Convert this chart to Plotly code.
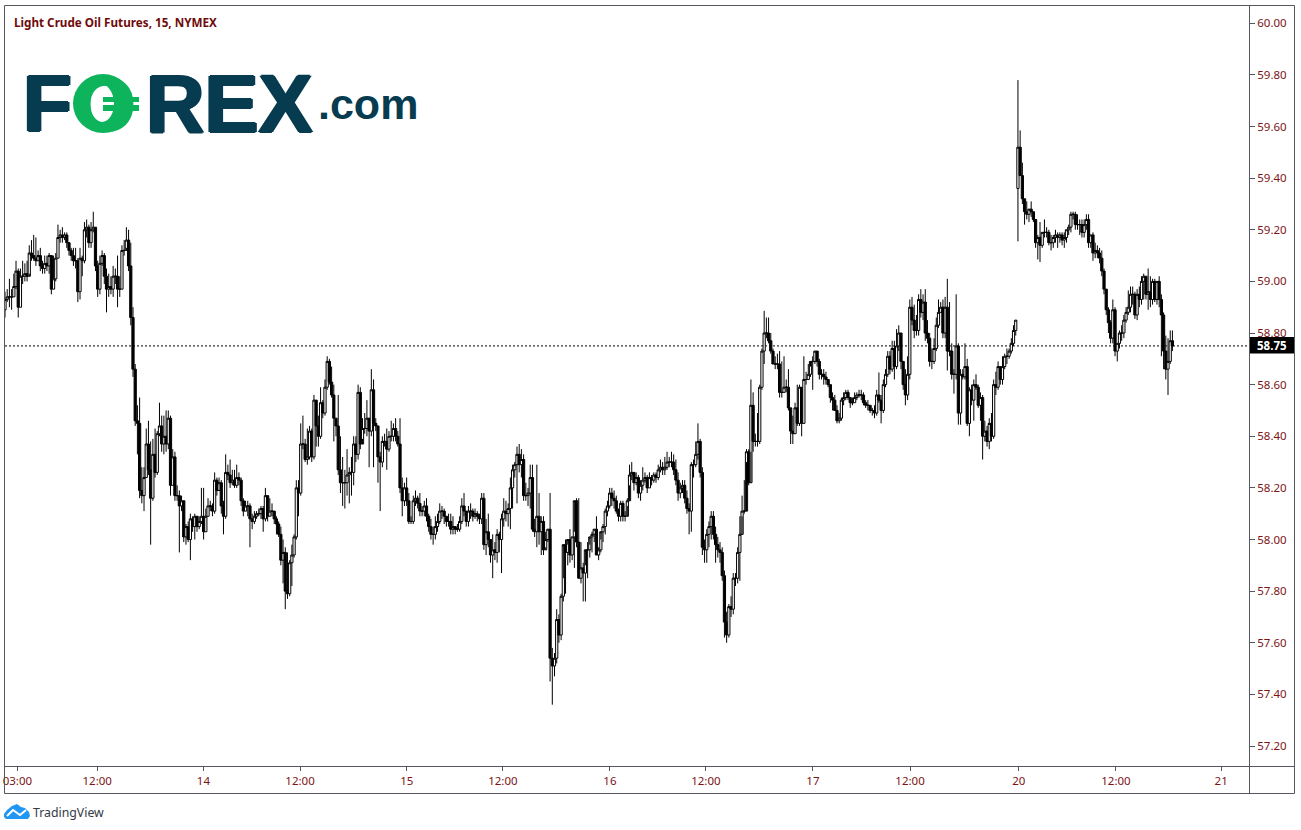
import plotly.graph_objects as go

W, H = 1301, 830
TITLE = "Light Crude Oil Futures, 15, NYMEX"
TICK_POS = [5.6, 41.8, 89.9, 133.7, 182.1, 225.6, 274.1, 317.6, 366.1, 410.1, 459.4, 503.4, 551.1]
TICK_TEXT = ["03:00", "12:00", "14", "12:00", "15", "12:00", "16", "12:00", "17", "12:00", "20", "12:00", "21"]
LAST_PRICE = 58.75

# Block A: first morning
opens_a = [58.89,58.93,58.94,58.94,58.94,58.98,59.04,58.90,59.02,59.02,
59.03,59.02,59.11,59.10,59.09,59.08,59.10,59.06,59.05,59.07,
59.06,59.10,58.97,59.01,59.09,59.17,59.18,59.17,59.18,59.15,
59.12,59.10,59.08,59.08,58.96,59.09,59.08,59.20,59.21,59.15,
59.20,59.21,59.06,58.97,59.07,59.10,59.02,58.97,58.98,58.97,
59.02,59.02,58.97,58.97,59.12,59.12,59.16,59.06]
highs_a = [58.96,58.97,59.01,58.97,59.03,59.08,59.05,59.05,59.08,59.07,
59.08,59.14,59.16,59.18,59.17,59.12,59.13,59.08,59.10,59.10,
59.11,59.10,59.10,59.11,59.22,59.20,59.21,59.19,59.19,59.15,
59.13,59.13,59.13,59.09,59.13,59.10,59.23,59.24,59.22,59.23,
59.27,59.21,59.08,59.10,59.12,59.11,59.05,59.03,59.02,59.06,
59.05,59.10,59.02,59.14,59.16,59.21,59.20,59.15]
lows_a = [58.86,58.92,58.90,58.89,58.94,58.97,58.86,58.90,58.99,59.00,
59.00,59.03,59.08,59.08,59.06,59.08,59.04,59.03,59.03,59.04,
59.03,58.95,58.97,59.00,59.09,59.15,59.15,59.16,59.13,59.10,
59.08,59.06,59.05,58.92,58.93,59.02,59.07,59.17,59.13,59.13,
59.19,59.04,58.94,58.95,59.06,58.99,58.88,58.94,58.95,58.94,
58.99,58.90,58.94,58.97,59.10,59.13,59.04,58.83]
closes_a = [58.93,58.94,58.94,58.94,58.98,59.04,58.90,59.02,59.02,59.03,
59.02,59.11,59.10,59.09,59.08,59.10,59.06,59.05,59.07,59.06,
59.10,58.97,59.01,59.09,59.17,59.18,59.17,59.18,59.15,59.12,
59.10,59.08,59.08,58.96,59.09,59.08,59.20,59.21,59.15,59.20,
59.21,59.06,58.97,59.07,59.10,59.02,58.97,58.98,58.97,59.02,
59.02,58.97,58.97,59.12,59.12,59.16,59.06,58.86]

# Block B
opens_b = [58.86,58.66,58.46,58.45,58.19,58.17,58.24,58.37,58.27,58.16,
58.33,58.26,58.41,58.44,58.37,58.40,58.37,58.47,58.21,58.32,
58.17,58.17,58.13,58.15,58.01,58.05,58.00,58.08,58.05,58.09,
58.05,58.07,58.09,58.03,58.09,58.13,58.13,58.11,58.23,58.19,
58.22,58.13,58.09,58.26,58.25,58.22,58.23,58.21,58.24,58.23,
58.15,58.11,58.13,58.13,58.08,58.07,58.09,58.10,58.10,58.12,
58.08,58.17,58.09,58.11,58.11,58.08,58.06,58.02,57.92,57.95,
57.80,57.79,57.91,57.94,58.01,58.20,58.18,58.37,58.37,58.31,
58.32,58.42,58.32,58.54,58.44,58.40,58.53,58.49,58.59]
highs_b = [58.90,58.68,58.52,58.55,58.28,58.28,58.43,58.46,58.38,58.39,
58.43,58.42,58.53,58.48,58.48,58.50,58.50,58.48,58.35,58.34,
58.21,58.19,58.17,58.15,58.06,58.07,58.10,58.09,58.10,58.09,
58.09,58.20,58.20,58.12,58.16,58.15,58.14,58.26,58.24,58.24,
58.23,58.15,58.33,58.29,58.31,58.27,58.27,58.29,58.26,58.24,
58.16,58.15,58.15,58.14,58.10,58.11,58.11,58.12,58.13,58.13,
58.20,58.17,58.16,58.14,58.11,58.09,58.07,58.05,58.00,57.97,
57.95,57.92,57.98,58.02,58.23,58.23,58.45,58.48,58.39,58.43,
58.44,58.43,58.56,58.53,58.48,58.59,58.54,58.62,58.71]
lows_b = [58.63,58.44,58.33,58.16,58.14,58.11,58.24,58.25,57.98,58.15,
58.24,58.25,58.40,58.34,58.33,58.34,58.35,58.17,58.21,58.15,
58.15,57.95,58.11,57.99,57.98,57.99,57.92,58.03,58.00,58.03,
58.04,58.06,58.00,58.03,58.09,58.11,58.09,58.10,58.17,58.19,
58.10,58.02,58.08,58.23,58.20,58.21,58.20,58.20,58.21,58.13,
58.09,58.11,58.09,57.97,58.04,58.06,58.08,58.09,58.08,58.03,
58.07,58.07,58.09,58.09,58.06,58.02,58.01,57.90,57.83,57.73,
57.77,57.78,57.82,57.93,58.00,58.09,58.17,58.35,58.30,58.29,
58.31,58.30,58.31,58.36,58.36,58.39,58.47,58.48,58.58]
closes_b = [58.66,58.46,58.45,58.19,58.17,58.24,58.37,58.27,58.16,58.33,
58.26,58.41,58.44,58.37,58.40,58.37,58.47,58.21,58.32,58.17,
58.17,58.13,58.15,58.01,58.05,58.00,58.08,58.05,58.09,58.05,
58.07,58.09,58.03,58.09,58.13,58.13,58.11,58.23,58.19,58.22,
58.13,58.09,58.26,58.25,58.22,58.23,58.21,58.24,58.23,58.15,
58.11,58.13,58.13,58.08,58.07,58.09,58.10,58.10,58.12,58.08,
58.17,58.09,58.11,58.11,58.08,58.06,58.02,57.92,57.95,57.80,
57.79,57.91,57.94,58.01,58.20,58.18,58.37,58.37,58.31,58.32,
58.42,58.32,58.54,58.44,58.40,58.53,58.49,58.59,58.69]

# Block C
opens_c = [58.69,58.61,58.56,58.47,58.44,58.27,58.22,58.22,58.22,58.25,
58.26,58.26,58.37,58.33,58.57,58.37,58.43,58.43,58.47,58.42,
58.58,58.45,58.44,58.32,58.30,58.38,58.38,58.35,58.40,58.40,
58.43,58.40,58.37,58.20,58.15,58.20,58.15,58.07,58.07,58.15,
58.16,58.14,58.11,58.11,58.13,58.09,58.05,58.02,58.02,58.05,
58.07,58.11,58.11,58.09,58.07,58.07,58.04,58.05,58.04,58.04,
58.07,58.13,58.11,58.07,58.11,58.11,58.09,58.10,58.09,58.08,
58.16,57.98,58.03,58.00,57.94,57.96,57.95,58.02,58.00,58.08,
58.11,58.10,58.12,58.20,58.27,58.29,58.33,58.29,58.31,58.17,
58.17,58.18,58.24,58.04,58.03]
highs_c = [58.70,58.67,58.60,58.47,58.56,58.40,58.32,58.27,58.35,58.28,
58.32,58.40,58.40,58.60,58.59,58.47,58.49,58.54,58.44,58.66,
58.62,58.47,58.44,58.34,58.40,58.41,58.43,58.42,58.46,58.45,
58.47,58.42,58.47,58.24,58.22,58.24,58.18,58.09,58.17,58.19,
58.17,58.18,58.13,58.15,58.16,58.10,58.08,58.05,58.09,58.10,
58.14,58.13,58.12,58.09,58.10,58.10,58.09,58.05,58.06,58.09,
58.16,58.18,58.10,58.13,58.14,58.12,58.12,58.11,58.10,58.18,
58.18,58.08,58.10,58.00,58.02,57.99,58.04,58.03,58.10,58.16,
58.15,58.14,58.24,58.29,58.30,58.36,58.37,58.35,58.33,58.22,
58.20,58.29,58.29,58.08,58.29]
lows_c = [58.60,58.55,58.38,58.40,58.25,58.18,58.13,58.12,58.17,58.14,
58.17,58.21,58.30,58.31,58.35,58.39,58.41,58.40,58.28,58.40,
58.28,58.42,58.22,58.11,58.28,58.36,58.27,58.34,58.38,58.38,
58.38,58.36,58.18,58.09,58.13,58.13,58.06,58.06,58.06,58.13,
58.12,58.09,58.09,58.09,58.07,58.03,58.00,57.98,58.00,58.03,
58.06,58.08,58.06,58.05,58.05,58.02,58.02,58.02,58.03,58.03,
58.06,58.09,58.05,58.05,58.08,58.07,58.08,58.07,58.06,58.06,
57.96,57.94,57.97,57.91,57.85,57.92,57.91,57.95,57.87,58.05,
58.07,58.05,58.04,58.12,58.24,58.14,58.26,58.24,58.15,58.15,
58.13,58.12,58.03,58.01,57.97]
closes_c = [58.61,58.56,58.47,58.44,58.27,58.22,58.22,58.22,58.25,58.26,
58.26,58.37,58.33,58.57,58.37,58.43,58.43,58.47,58.42,58.58,
58.45,58.44,58.32,58.30,58.38,58.38,58.35,58.40,58.40,58.43,
58.40,58.37,58.20,58.15,58.20,58.15,58.07,58.07,58.15,58.16,
58.14,58.11,58.11,58.13,58.09,58.05,58.02,58.02,58.05,58.07,
58.11,58.11,58.09,58.07,58.07,58.04,58.05,58.04,58.04,58.07,
58.13,58.11,58.07,58.11,58.11,58.09,58.10,58.09,58.08,58.16,
57.98,58.03,58.00,57.94,57.96,57.95,58.02,58.00,58.08,58.11,
58.10,58.12,58.20,58.27,58.29,58.33,58.29,58.31,58.17,58.17,
58.18,58.24,58.04,58.03,58.09]

# Block D
opens_d = [58.09,58.03,58.07,57.96,58.00,58.04,57.54,57.51,57.54,57.69,
57.63,57.78,57.98,57.95,58.00,57.94,58.01,58.15,57.99,57.85,
57.89,57.87,57.96,57.96,58.01,58.02,58.04,57.94,57.96,58.03,
58.05,58.11,58.13,58.18,58.16,58.15,58.11,58.09,58.14,58.09,
58.09,58.15,58.25,58.26,58.22,58.24,58.18,58.21,58.23,58.24,
58.20,58.24,58.23,58.25,58.24,58.27,58.28,58.27,58.28,58.30,
58.30,58.30,58.27,58.23,58.18,58.20,58.21,58.16,58.12,58.11,
58.29,58.29,58.33,58.38,58.26,57.97,57.96,58.02,58.05,58.09,
58.02,57.98,57.96,57.95,57.86,57.68,57.63,57.74,57.73,57.85,
57.85,57.95]
highs_d = [58.18,58.09,58.09,58.03,58.04,58.18,57.58,57.56,57.73,57.71,
57.79,57.85,58.00,57.98,58.04,58.01,58.03,58.16,58.16,57.99,
57.91,57.90,57.99,57.98,58.03,58.04,58.09,57.97,58.00,58.06,
58.12,58.15,58.20,58.20,58.19,58.17,58.12,58.15,58.15,58.11,
58.16,58.29,58.30,58.26,58.26,58.25,58.23,58.28,58.26,58.25,
58.26,58.25,58.26,58.26,58.29,58.31,58.30,58.32,58.34,58.32,
58.34,58.33,58.31,58.26,58.22,58.23,58.23,58.19,58.14,58.30,
58.31,58.38,58.45,58.39,58.28,58.00,58.04,58.07,58.11,58.11,
58.05,58.01,57.99,57.97,57.88,57.72,57.75,57.78,57.87,57.87,
57.97,58.09]
lows_d = [57.98,57.94,57.94,57.97,57.99,57.45,57.36,57.47,57.52,57.60,
57.61,57.76,57.79,57.90,57.91,57.92,57.89,57.97,57.99,57.83,
57.76,57.76,57.85,57.93,57.95,57.99,57.94,57.92,57.95,57.99,
58.02,58.09,58.12,58.13,58.12,58.10,58.07,58.07,58.07,58.07,
58.13,58.21,58.23,58.19,58.21,58.16,58.15,58.19,58.22,58.18,
58.20,58.21,58.22,58.22,58.23,58.26,58.25,58.25,58.27,58.28,
58.28,58.25,58.21,58.15,58.16,58.18,58.14,58.10,58.02,58.03,
58.24,58.28,58.31,58.24,57.94,57.91,57.91,57.97,58.00,58.00,
57.91,57.93,57.91,57.84,57.62,57.60,57.62,57.70,57.71,57.82,
57.83,57.84]
closes_d = [58.03,58.07,57.96,58.00,58.04,57.54,57.51,57.54,57.69,57.63,
57.78,57.98,57.95,58.00,57.94,58.01,58.15,57.99,57.85,57.89,
57.87,57.96,57.96,58.01,58.02,58.04,57.94,57.96,58.03,58.05,
58.11,58.13,58.18,58.16,58.15,58.11,58.09,58.14,58.09,58.09,
58.15,58.25,58.26,58.22,58.24,58.18,58.21,58.23,58.24,58.20,
58.24,58.23,58.25,58.24,58.27,58.28,58.27,58.28,58.30,58.30,
58.30,58.27,58.23,58.18,58.20,58.21,58.16,58.12,58.11,58.29,
58.29,58.33,58.38,58.26,57.97,57.96,58.02,58.05,58.09,58.02,
57.98,57.96,57.95,57.86,57.68,57.63,57.74,57.73,57.85,57.85,
57.95,58.02]

# Block E
opens_e = [58.02,58.11,58.11,58.34,58.22,58.52,58.38,58.38,58.38,58.59,
58.73,58.80,58.80,58.77,58.73,58.68,58.68,58.68,58.57,58.57,
58.59,58.59,58.51,58.42,58.41,58.51,58.45,58.59,58.45,58.62,
58.62,58.64,58.69,58.69,58.73,58.69,58.64,58.64,58.63,58.62,
58.60,58.55,58.54,58.50,58.46,58.47,58.54,58.55,58.57,58.55,
58.53,58.53,58.55,58.56,58.56,58.56,58.53,58.52,58.52,58.50,
58.50,58.49,58.56,58.54,58.50,58.60,58.64,58.71,58.66,58.74,
58.67,58.75,58.80,58.69,58.60,58.56,58.64,58.90,58.85,58.81,
58.81,58.93,58.88,58.92,58.80,58.78,58.69,58.69,58.74,58.83]
highs_e = [58.17,58.23,58.35,58.35,58.62,58.57,58.41,58.49,58.60,58.74,
58.886,58.86,58.86,58.80,58.74,58.71,58.72,58.73,58.69,58.71,
58.62,58.66,58.51,58.48,58.53,58.60,58.60,58.52,58.71,58.65,
58.68,58.67,58.71,58.73,58.72,58.70,58.66,58.66,58.65,58.62,
58.60,58.57,58.56,58.52,58.49,58.55,58.57,58.58,58.58,58.55,
58.55,58.57,58.57,58.58,58.58,58.57,58.54,58.54,58.52,58.51,
58.52,58.58,58.647,58.56,58.62,58.66,58.73,58.73,58.77,58.77,
58.815,58.83,58.80,58.62,58.66,58.71,58.93,58.94,58.91,58.87,
58.95,58.97,58.95,58.97,58.85,58.80,58.74,58.78,58.86,58.93]
lows_e = [58.09,58.10,58.30,58.21,58.34,58.34,58.36,58.36,58.37,58.58,
58.68,58.78,58.76,58.72,58.71,58.66,58.66,58.55,58.55,58.57,
58.57,58.50,58.37,58.37,58.41,58.44,58.44,58.40,58.45,58.60,
58.62,58.63,58.58,58.68,58.67,58.62,58.62,58.60,58.60,58.59,
58.53,58.50,58.52,58.45,58.45,58.46,58.52,58.54,58.54,58.51,
58.52,58.53,58.54,58.55,58.54,58.52,58.51,58.50,58.49,58.48,
58.47,58.48,58.53,58.45,58.49,58.59,58.63,58.64,58.65,58.62,
58.66,58.73,58.66,58.58,58.52,58.54,58.62,58.83,58.78,58.79,
58.79,58.86,58.85,58.77,58.76,58.67,58.66,58.68,58.73,58.82]
closes_e = [58.11,58.11,58.34,58.22,58.52,58.38,58.38,58.38,58.59,58.73,
58.80,58.80,58.77,58.73,58.68,58.68,58.68,58.57,58.57,58.59,
58.59,58.51,58.42,58.41,58.51,58.45,58.59,58.45,58.62,58.62,
58.64,58.69,58.69,58.73,58.69,58.64,58.64,58.63,58.62,58.60,
58.55,58.54,58.50,58.46,58.47,58.54,58.55,58.57,58.55,58.53,
58.53,58.55,58.56,58.56,58.56,58.53,58.52,58.52,58.50,58.50,
58.49,58.56,58.54,58.50,58.60,58.64,58.71,58.66,58.74,58.67,
58.75,58.80,58.69,58.60,58.56,58.64,58.90,58.85,58.81,58.81,
58.93,58.88,58.92,58.80,58.78,58.69,58.69,58.74,58.83,58.88]

# Block F
opens_f = [58.88,58.90,58.80,58.90,58.73,58.73,58.64,58.64,58.75,58.49,
58.64,58.63,58.67,58.45,58.58,58.54,58.60,58.59,58.52,58.55,
58.40,58.42,58.38,58.45,58.40,58.60,58.59,58.67,58.62,58.67,
58.71,58.71,58.73,58.76,58.81]
highs_f = [58.92,58.93,58.94,59.01,58.92,58.76,58.66,58.95,58.76,58.66,
58.66,58.76,58.70,58.59,58.60,58.62,58.64,58.60,58.57,58.56,
58.46,58.44,58.47,58.49,58.62,58.65,58.69,58.64,58.71,58.72,
58.74,58.74,58.78,58.83,58.85]
lows_f = [58.88,58.78,58.78,58.655,58.71,58.62,58.565,58.62,58.445,58.445,
58.62,58.62,58.44,58.40,58.52,58.46,58.58,58.51,58.46,58.31,
58.38,58.36,58.35,58.38,58.39,58.56,58.58,58.60,58.60,58.66,
58.68,58.70,58.72,58.75,58.79]
closes_f = [58.90,58.80,58.90,58.73,58.73,58.64,58.64,58.75,58.49,58.64,
58.63,58.67,58.45,58.58,58.54,58.60,58.59,58.52,58.55,58.40,
58.42,58.38,58.45,58.40,58.60,58.59,58.67,58.62,58.67,58.71,
58.71,58.73,58.76,58.81,58.85]

# Block G: after the weekend
opens_g = [59.36,59.52,59.41,59.32,59.27,59.26,59.28,59.27,59.24,59.15,
59.17,59.14,59.19,59.19,59.19,59.15,59.15,59.17,59.18,59.17,
59.18,59.16,59.17,59.20,59.21,59.26,59.26,59.22,59.22,59.22,
59.19,59.22,59.24,59.15,59.18,59.11,59.12,59.11,59.09,59.04,
58.97,58.89,58.84,58.78,58.89,58.73,58.76,58.80,58.80,58.85,
58.88,58.90,58.95,58.95,58.87,58.95,58.93,59.00,59.02,58.95,
58.96,58.93,59.00,58.93,59.00,58.93,58.87,58.73,58.66,58.69,
58.77]
highs_g = [59.78,59.585,59.46,59.32,59.31,59.28,59.31,59.27,59.24,59.18,
59.23,59.19,59.24,59.21,59.20,59.18,59.18,59.20,59.19,59.19,
59.19,59.19,59.20,59.22,59.27,59.27,59.27,59.26,59.24,59.24,
59.24,59.26,59.26,59.18,59.19,59.15,59.14,59.13,59.12,59.05,
58.97,58.90,58.85,58.93,58.90,58.76,58.81,58.83,58.87,58.90,
58.965,58.98,58.98,58.96,58.97,58.98,59.02,59.03,59.02,59.05,
59.02,59.01,59.01,59.00,59.02,58.95,58.88,58.79,58.78,58.81,
58.81]
lows_g = [59.155,59.41,59.30,59.22,59.24,59.23,59.25,59.23,59.13,59.085,
59.075,59.13,59.17,59.17,59.14,59.12,59.13,59.15,59.13,59.15,
59.14,59.13,59.15,59.18,59.19,59.24,59.20,59.20,59.18,59.17,
59.17,59.20,59.13,59.13,59.08,59.09,59.09,59.07,59.02,58.95,
58.87,58.80,58.76,58.76,58.71,58.69,58.74,58.77,58.78,58.84,
58.87,58.88,58.91,58.855,58.85,58.90,58.91,58.93,58.93,58.89,
58.90,58.91,58.92,58.91,58.90,58.71,58.66,58.62,58.56,58.68,
58.73]
closes_g = [59.52,59.41,59.32,59.27,59.26,59.28,59.27,59.24,59.15,59.17,
59.14,59.19,59.19,59.19,59.15,59.15,59.17,59.18,59.17,59.18,
59.16,59.17,59.20,59.21,59.26,59.26,59.22,59.22,59.22,59.19,
59.22,59.24,59.15,59.18,59.11,59.12,59.11,59.09,59.04,58.97,
58.89,58.84,58.78,58.89,58.73,58.76,58.80,58.80,58.85,58.88,
58.90,58.95,58.95,58.87,58.95,58.93,59.00,59.02,58.95,58.96,
58.93,59.00,58.93,59.00,58.93,58.87,58.73,58.66,58.69,58.77,
58.75]

opens = opens_a + opens_b + opens_c + opens_d + opens_e + opens_f + opens_g
highs = highs_a + highs_b + highs_c + highs_d + highs_e + highs_f + highs_g
lows = lows_a + lows_b + lows_c + lows_d + lows_e + lows_f + lows_g
closes = closes_a + closes_b + closes_c + closes_d + closes_e + closes_f + closes_g
n = min(len(opens), len(highs), len(lows), len(closes))
bars = list(range(n))

def px(x):
    return x / W

def py(y):
    return 1 - y / H

TEAL = "#073b4f"
GREEN = "#0db45c"
FRAME = "#55585f"
RED = "#7d1414"

fig = go.Figure(go.Candlestick(
    x=bars, open=opens[:n], high=highs[:n], low=lows[:n], close=closes[:n],
    increasing=dict(line=dict(color="black", width=1), fillcolor="white"),
    decreasing=dict(line=dict(color="black", width=1), fillcolor="black"),
    whiskerwidth=0, hoverinfo="skip", showlegend=False,
))

def rect(x0, y0, x1, y1, fill=None, line=None):
    return dict(type="rect", xref="paper", yref="paper", x0=px(x0), x1=px(x1), y0=py(y0), y1=py(y1),
                fillcolor=fill if fill else "rgba(0,0,0,0)",
                line=dict(color=line if line else "rgba(0,0,0,0)", width=1 if line else 0), layer="above")

def oval(x0, y0, x1, y1, fill):
    return dict(type="circle", xref="paper", yref="paper", x0=px(x0), x1=px(x1), y0=py(y0), y1=py(y1),
                fillcolor=fill, line=dict(width=0), layer="above")

def path_of(points, close=True):
    s = "M" + " L".join(f"{px(a):.5f},{py(b):.5f}" for a, b in points)
    return s + (" Z" if close else "")

shapes = [
    dict(type="line", xref="paper", yref="y", x0=px(5), x1=px(1249), y0=LAST_PRICE, y1=LAST_PRICE,
         line=dict(color="black", width=1, dash="2px,2px"), layer="below"),
    rect(4.5, 5.5, 1294.5, 793.5, line=FRAME),
    dict(type="line", xref="paper", yref="paper", x0=px(1249.5), x1=px(1249.5), y0=py(5.5), y1=py(793.5),
         line=dict(color=FRAME, width=1), layer="above"),
    dict(type="line", xref="paper", yref="paper", x0=px(4.5), x1=px(1294.5), y0=py(766.5), y1=py(766.5),
         line=dict(color=FRAME, width=1), layer="above"),
    rect(1250, 337, 1294, 353.5, fill="black"),
    oval(73, 74, 133, 133, GREEN),
    oval(90, 85, 114, 122, "white"),
    rect(103, 97, 139, 102, fill=GREEN),
    rect(103, 105, 139, 111, fill=GREEN),
    dict(type="path", xref="paper", yref="paper", layer="above", fillcolor="#2196f3", line=dict(width=0),
         path=path_of([(4, 814), (7, 810), (12, 806), (17, 804), (21, 807), (25, 808), (29, 812), (30, 816),
                       (28, 819), (6, 819), (4, 817)])),
    dict(type="path", xref="paper", yref="paper", layer="above", line=dict(color="white", width=2),
         path=path_of([(7, 816), (13, 810), (20, 815), (26, 810)], close=False)),
]

def text(x, y, s, size, color, bold=False, family="Liberation Sans", anchor="left", shadow=None):
    font = dict(family=family, size=size, color=color)
    if shadow:
        font["shadow"] = shadow
    return dict(xref="paper", yref="paper", x=px(x), y=py(y), text=f"<b>{s}</b>" if bold else s,
                showarrow=False, xanchor=anchor, yanchor="middle", align="left", font=font)

HEAVY = f"1.5px 0 0 {TEAL}, -1.5px 0 0 {TEAL}, 0 1px 0 {TEAL}, 0 -1px 0 {TEAL}"

annotations = [
    text(12, 22, TITLE, 11.7, "#6f0b0b", bold=True, family="Noto Sans"),
    text(21, 104, "F", 80, TEAL, bold=True, shadow=HEAVY),
    text(74, 104, "O", 78, GREEN, bold=True),
    text(144, 104, "REX", 81, TEAL, bold=True, shadow=HEAVY),
    text(316, 104, ".com", 43, TEAL, bold=True),
    text(31, 812, "TradingView", 12.3, "#333a45", family="Noto Sans"),
    text(1272, 345.5, str(LAST_PRICE), 11.5, "white", bold=True, family="Noto Sans", anchor="center"),
]

fig.update_layout(
    width=W, height=H, autosize=False,
    margin=dict(l=0, r=0, t=0, b=0, autoexpand=False),
    paper_bgcolor="white", plot_bgcolor="white",
    boxgap=0, boxgroupgap=0,
    shapes=shapes, annotations=annotations,
    showlegend=False,
    xaxis=dict(domain=[px(5), px(1249)], range=[0, 563.7], rangeslider=dict(visible=False), automargin=False,
               tickmode="array", tickvals=TICK_POS, ticktext=TICK_TEXT, ticks="outside", ticklen=4,
               tickcolor=FRAME, tickfont=dict(family="Noto Sans", size=11.5, color=RED),
               showgrid=False, zeroline=False, showline=False),
    yaxis=dict(domain=[py(766), py(6)], range=[57.1225, 60.067], side="right", tick0=57.2, dtick=0.2, automargin=False,
               tickformat=".2f", ticks="outside", ticklen=5, tickcolor=FRAME,
               tickfont=dict(family="Noto Sans", size=11.5, color=RED),
               showgrid=False, zeroline=False, showline=False),
)

fig.write_html("out.html", config=dict(displayModeBar=False),
               post_script="document.body.style.margin='0';document.body.style.overflow='hidden';")
